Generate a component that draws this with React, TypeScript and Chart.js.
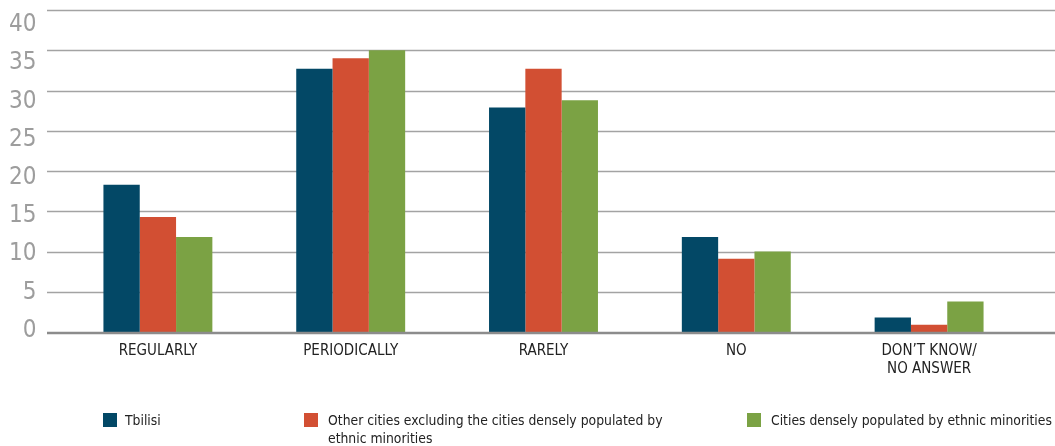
import React, { useEffect, useRef } from "react";
import { Chart, registerables } from "chart.js";

Chart.register(...registerables);

const categories: (string | string[])[] = [
  ["REGULARLY"],
  ["PERIODICALLY"],
  ["RARELY"],
  ["NO"],
  ["DON’T KNOW/", "NO ANSWER"],
];
const seriesNames = [
  "Tbilisi",
  "Other cities excluding the cities densely populated by ethnic minorities",
  "Cities densely populated by ethnic minorities",
];
const tbilisi = [18.3, 32.7, 27.9, 11.8, 1.8];
const otherCities = [14.3, 34.0, 32.7, 9.1, 0.9];
const minorityCities = [11.8, 35.0, 28.8, 10.0, 3.8];
const yTickValues = [0, 5, 10, 15, 20, 25, 30, 35, 40];
const seriesColors = ["#034866", "#d24f33", "#7ba244"];

const FONT = "'Liberation Sans Narrow', 'DejaVu Sans Condensed', 'Liberation Sans', sans-serif";

const gridPlugin = {
  id: "fullGrid",
  beforeDatasetsDraw(chart: any) {
    const { ctx } = chart;
    const y = chart.scales.y;
    ctx.save();
    ctx.strokeStyle = "#a3a3a3";
    ctx.lineWidth = 1.4;
    yTickValues.forEach((v) => {
      if (v === 0) return;
      const py = Math.round(y.getPixelForValue(v)) + 0.5;
      ctx.beginPath();
      ctx.moveTo(47, py);
      ctx.lineTo(chart.width, py);
      ctx.stroke();
    });
    ctx.restore();
  },
  afterDatasetsDraw(chart: any) {
    const { ctx } = chart;
    const y = chart.scales.y;
    const py = y.getPixelForValue(0);
    ctx.save();
    ctx.strokeStyle = "#8c8c8c";
    ctx.lineWidth = 2.5;
    ctx.beginPath();
    ctx.moveTo(47, py + 1);
    ctx.lineTo(chart.width, py + 1);
    ctx.stroke();
    ctx.restore();
  },
};

const zeroPad = (s: any) => {
  s.paddingTop = 0;
  s.paddingBottom = 0;
  s.paddingLeft = 0;
  s.paddingRight = 0;
};

export default function App() {
  const ref = useRef<HTMLCanvasElement>(null);

  useEffect(() => {
    document.body.style.margin = "0";
    const series = [tbilisi, otherCities, minorityCities];
    const chart = new Chart(ref.current as HTMLCanvasElement, {
      type: "bar",
      data: {
        labels: categories as any,
        datasets: series.map((d, i) => ({
          label: seriesNames[i],
          data: d,
          backgroundColor: seriesColors[i],
          borderWidth: 0,
          barPercentage: 1,
          categoryPercentage: 0.565,
          yAxisID: "y",
        })),
      },
      options: {
        animation: false,
        responsive: false,
        layout: { padding: { top: 10, right: 29.5, bottom: 0, left: 0 } },
        plugins: { legend: { display: false }, tooltip: { enabled: false } },
        scales: {
          x: {
            grid: { display: false, drawTicks: false },
            border: { display: false },
            ticks: {
              color: "#222",
              padding: 10,
              maxRotation: 0,
              autoSkip: false,
              font: { family: FONT, size: 15 },
            },
            afterFit: (s: any) => {
              s.height = 114;
              zeroPad(s);
            },
          },
          y: {
            display: false,
            min: 0,
            max: 40,
          },
          yLabels: {
            position: "left",
            min: -0.2,
            max: 41.96,
            grid: { display: false, drawTicks: false },
            border: { display: false },
            afterBuildTicks: (s: any) => {
              s.ticks = yTickValues.map((v) => ({ value: v }));
            },
            ticks: {
              color: "#9d9d9d",
              padding: 25,
              font: { family: FONT, size: 24 },
            },
            afterFit: (s: any) => {
              s.width = 61.5;
              zeroPad(s);
            },
          },
        },
      } as any,
      plugins: [gridPlugin],
    });
    return () => chart.destroy();
  }, []);

  const legendLeft = [103, 304, 747];
  const legendWidth = [170, 368, 305];

  return (
    <div style={{ position: "relative", width: 1055, height: 446 }}>
      <canvas ref={ref} width={1055} height={446} style={{ display: "block" }} />
      {seriesNames.map((name, i) => (
        <div
          key={name}
          style={{
            position: "absolute",
            left: legendLeft[i],
            top: 411,
            width: legendWidth[i],
            display: "flex",
            alignItems: "flex-start",
            fontFamily: FONT,
            fontSize: 13.8,
            lineHeight: "18px",
            color: "#222",
          }}
        >
          <span
            style={{
              display: "inline-block",
              width: 14,
              height: 14,
              marginTop: 2,
              background: seriesColors[i],
              flex: "0 0 auto",
            }}
          />
          <span style={{ marginLeft: i === 0 ? 8 : 10 }}>{name}</span>
        </div>
      ))}
    </div>
  );
}
